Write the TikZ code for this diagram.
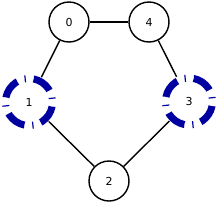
\documentclass[tikz,border=0pt]{standalone}
\usepackage{fontspec}
\setmainfont{DejaVu Sans}
\definecolor{ringblue}{RGB}{0,0,160}
\begin{document}
\begin{tikzpicture}[x=1pt,y=1pt,
  vnode/.style={circle,draw=black,line width=1.4pt,minimum size=40pt,inner sep=0pt,font=\fontsize{11}{13}\selectfont},
  hnode/.style={circle,draw=none,minimum size=55pt,inner sep=0pt,font=\fontsize{11}{13}\selectfont},
  ring/.style={draw=ringblue,line width=7pt,dash pattern=on 20pt off 8pt on 1.2pt off 7.7pt,dash phase=24.8pt},
  edge/.style={draw=black,line width=1.4pt}]
\useasboundingbox (0,0) rectangle (219,202);
\node[vnode] (n0) at (69,180) {0};
\node[vnode] (n4) at (149,180) {4};
\node[hnode] (n1) at (29,100) {1};
\node[hnode] (n3) at (189,100.5) {3};
\node[vnode] (n2) at (109,21) {2};
\draw[ring] (n1.center) circle (23.5);
\draw[ring] (n3.center) circle (23.5);
\draw[edge] (n0) -- (n4);
\draw[edge] (n0) -- (n1);
\draw[edge] (n1) -- (n2);
\draw[edge] (n2) -- (n3);
\draw[edge] (n3) -- (n4);
\end{tikzpicture}
\end{document}
